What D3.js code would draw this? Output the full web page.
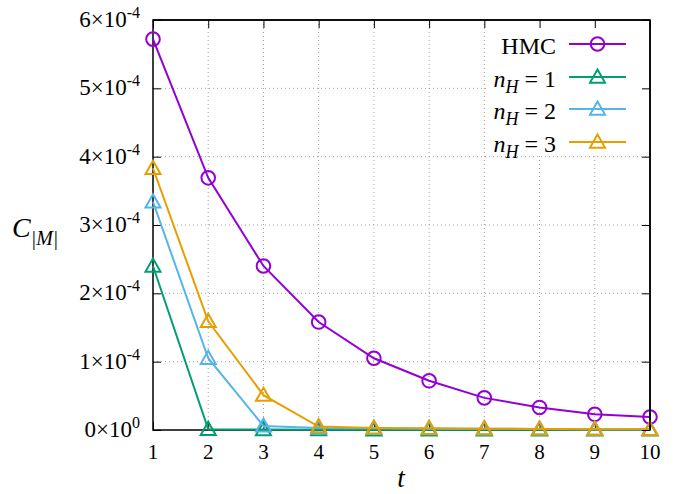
<!DOCTYPE html>
<html>
<head>
<meta charset="utf-8">
<script src="https://cdn.jsdelivr.net/npm/d3@7"></script>
<style>
  html, body { margin: 0; padding: 0; background: #fff; }
  svg text, svg tspan { font-family: 'Liberation Serif', 'Times New Roman', 'DejaVu Serif', serif !important; fill: #000; }
</style>
</head>
<body>
<svg id="chart" width="678" height="494"></svg>
<script>
// ---- data ----
const tValues = [1, 2, 3, 4, 5, 6, 7, 8, 9, 10];
const hmc = [5.72e-4, 3.69e-4, 2.40e-4, 1.58e-4, 1.05e-4, 0.72e-4, 0.47e-4, 0.33e-4, 0.23e-4, 0.19e-4];
const nH1 = [2.40e-4, 0.010e-4, 0.006e-4, 0.004e-4, 0.003e-4, 0.003e-4, 0.002e-4, 0.002e-4, 0.002e-4, 0.002e-4];
const nH2 = [3.34e-4, 1.05e-4, 0.06e-4, 0.03e-4, 0.025e-4, 0.02e-4, 0.018e-4, 0.015e-4, 0.012e-4, 0.01e-4];
const nH3 = [3.83e-4, 1.59e-4, 0.51e-4, 0.05e-4, 0.03e-4, 0.025e-4, 0.02e-4, 0.015e-4, 0.012e-4, 0.01e-4];
const yTickMantissas = [0, 1, 2, 3, 4, 5, 6];
const seriesNames = ["HMC", "n_H = 1", "n_H = 2", "n_H = 3"];
const seriesColors = ["#9400d3", "#009e73", "#56b4e9", "#e69f00"];
const seriesMarkers = ["circle", "triangle", "triangle", "triangle"];
const seriesValues = [hmc, nH1, nH2, nH3];

const FONT = "'Liberation Serif', 'Times New Roman', serif";

// ---- layout ----
const svg = d3.select("#chart");
const L = 153, R = 650, T = 20, B = 430;
const x = d3.scaleLinear().domain([1, 10]).range([L, R]);
const y = d3.scaleLinear().domain([0, 6e-4]).range([B, T]);

// grid
const grid = svg.append("g");
grid.selectAll("line.vg").data(tValues.slice(1, -1)).enter().append("line")
  .attr("x1", d => x(d)).attr("x2", d => x(d)).attr("y1", T).attr("y2", B)
  .attr("stroke", "#a0a0a0").attr("stroke-width", 1).attr("stroke-dasharray", "1,3");
grid.selectAll("line.hg").data(yTickMantissas.slice(1, -1)).enter().append("line")
  .attr("x1", L).attr("x2", R).attr("y1", d => y(d * 1e-4)).attr("y2", d => y(d * 1e-4))
  .attr("stroke", "#a0a0a0").attr("stroke-width", 1).attr("stroke-dasharray", "1,3");

// axes with inward ticks (mirrored)
const tickLen = 8;
const axB = svg.append("g").attr("transform", `translate(0,${B})`)
  .call(d3.axisBottom(x).tickValues(tValues).tickSizeInner(-tickLen).tickSizeOuter(0).tickFormat(""));
const axT = svg.append("g").attr("transform", `translate(0,${T})`)
  .call(d3.axisTop(x).tickValues(tValues).tickSizeInner(-tickLen).tickSizeOuter(0).tickFormat(""));
const axL = svg.append("g").attr("transform", `translate(${L},0)`)
  .call(d3.axisLeft(y).tickValues(yTickMantissas.map(m => m * 1e-4)).tickSizeInner(-tickLen).tickSizeOuter(0).tickFormat(""));
const axR = svg.append("g").attr("transform", `translate(${R},0)`)
  .call(d3.axisRight(y).tickValues(yTickMantissas.map(m => m * 1e-4)).tickSizeInner(-tickLen).tickSizeOuter(0).tickFormat(""));
[axB, axT, axL, axR].forEach(a => {
  a.select(".domain").remove();
  a.selectAll(".tick line").attr("stroke", "#000").attr("stroke-width", 1);
});

// x tick labels
svg.append("g").selectAll("text").data(tValues).enter().append("text")
  .attr("x", d => x(d)).attr("y", 459).attr("text-anchor", "middle")
  .attr("font-family", FONT).attr("font-size", 21).text(d => d);

// y tick labels with superscripts
const yl = svg.append("g");
yTickMantissas.forEach(m => {
  const t = yl.append("text").attr("x", 140).attr("y", y(m * 1e-4) + 7)
    .attr("text-anchor", "end").attr("font-family", FONT).attr("font-size", 23);
  t.append("tspan").text(m + "×10");
  t.append("tspan").attr("dy", -9).attr("font-size", 16).text(m === 0 ? "0" : "-4");
});

// frame
svg.append("rect").attr("x", L).attr("y", T).attr("width", R - L).attr("height", B - T)
  .attr("fill", "none").attr("stroke", "#000").attr("stroke-width", 1.5);

// legend background (opaque key)
svg.append("rect").attr("x", 486).attr("y", T + 1).attr("width", R - 487).attr("height", 133)
  .attr("fill", "#fff");

// marker helper
function drawMarker(g, type, cx, cy, color) {
  if (type === "circle") {
    g.append("circle").attr("cx", cx).attr("cy", cy).attr("r", 6.8)
      .attr("fill", "none").attr("stroke", color).attr("stroke-width", 2);
  } else {
    const s = 7.5;
    g.append("path")
      .attr("d", `M${cx},${cy - s}L${cx + s},${cy + s * 0.75}L${cx - s},${cy + s * 0.75}Z`)
      .attr("fill", "none").attr("stroke", color).attr("stroke-width", 2)
      .attr("stroke-linejoin", "miter");
  }
}

// series
const line = d3.line().x(d => x(d[0])).y(d => y(d[1]));
seriesValues.forEach((vals, i) => {
  const g = svg.append("g");
  const pts = tValues.map((t, j) => [t, vals[j]]);
  g.append("path").datum(pts).attr("d", line)
    .attr("fill", "none").attr("stroke", seriesColors[i]).attr("stroke-width", 2);
  pts.forEach(p => drawMarker(g, seriesMarkers[i], x(p[0]), y(p[1]), seriesColors[i]));
});

// frame top/right edges over legend bg, with ticks
svg.append("line").attr("x1", L).attr("x2", R).attr("y1", T).attr("y2", T).attr("stroke", "#000").attr("stroke-width", 1.5);
svg.append("line").attr("x1", R).attr("x2", R).attr("y1", T).attr("y2", B).attr("stroke", "#000").attr("stroke-width", 1.5);
axT.raise(); axR.raise();

// legend
const legRows = [44, 77, 109, 142];
const lg = svg.append("g");
seriesNames.forEach((name, i) => {
  const ry = legRows[i];
  const t = lg.append("text").attr("x", 556).attr("y", ry + 10).attr("text-anchor", "end")
    .attr("font-family", FONT).attr("font-size", 24);
  if (name === "HMC") {
    t.text("HMC");
  } else {
    const num = name.split("= ")[1];
    t.append("tspan").attr("font-style", "italic").text("n");
    t.append("tspan").attr("font-style", "italic").attr("font-size", 18).attr("dy", 6).text("H");
    t.append("tspan").attr("dy", -6).text(" = " + num);
  }
  lg.append("line").attr("x1", 569).attr("x2", 626).attr("y1", ry).attr("y2", ry)
    .attr("stroke", seriesColors[i]).attr("stroke-width", 2);
  drawMarker(lg, seriesMarkers[i], 597.5, ry, seriesColors[i]);
});

// axis labels
svg.append("text").attr("x", 401).attr("y", 487).attr("text-anchor", "middle")
  .attr("font-family", FONT).attr("font-size", 27).attr("font-style", "italic").text("t");
const yLab = svg.append("text").attr("x", 12).attr("y", 237)
  .attr("font-family", FONT).attr("font-size", 28).attr("font-style", "italic");
yLab.append("tspan").text("C");
yLab.append("tspan").attr("font-size", 20).attr("dy", 8).text("|M|");
</script>
</body>
</html>
